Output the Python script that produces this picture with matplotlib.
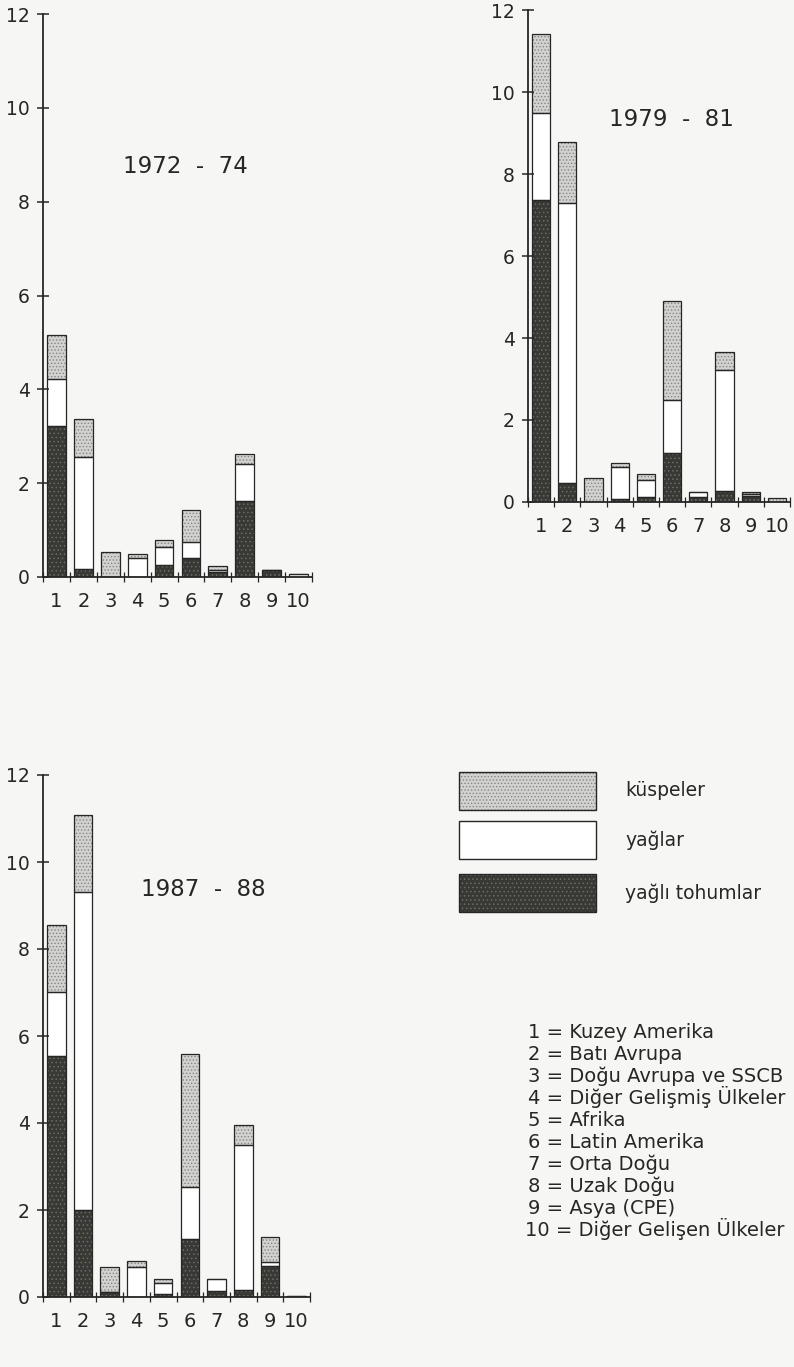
import matplotlib
matplotlib.use("Agg")
import matplotlib.pyplot as plt
from matplotlib.patches import Rectangle
import numpy as np

plt.rcParams['font.family'] = ['DejaVu Sans']
plt.rcParams['hatch.linewidth'] = 0.6

# ---------------- data ----------------
kategoriler = list(range(1, 11))
kategori_etiketleri = [str(k) for k in kategoriler]
ytick_degerleri = [0, 2, 4, 6, 8, 10, 12]

donemler = ["1972  -  74", "1979  -  81", "1987  -  88"]

tohum_1972 = [3.21, 0.16, 0.00, 0.00, 0.25, 0.41, 0.10, 1.61, 0.14, 0.00]
yag_1972 = [1.02, 2.39, 0.00, 0.40, 0.39, 0.33, 0.05, 0.80, 0.00, 0.06]
kusp_1972 = [0.93, 0.82, 0.53, 0.08, 0.15, 0.69, 0.08, 0.21, 0.00, 0.00]

tohum_1980 = [7.36, 0.46, 0.00, 0.07, 0.12, 1.20, 0.12, 0.28, 0.15, 0.00]
yag_1980 = [2.14, 6.84, 0.00, 0.78, 0.41, 1.28, 0.12, 2.95, 0.04, 0.00]
kusp_1980 = [1.91, 1.49, 0.59, 0.09, 0.15, 2.42, 0.00, 0.43, 0.05, 0.10]

tohum_1988 = [5.53, 2.00, 0.12, 0.00, 0.06, 1.34, 0.13, 0.15, 0.71, 0.00]
yag_1988 = [1.49, 7.32, 0.00, 0.69, 0.26, 1.18, 0.29, 3.34, 0.10, 0.02]
kusp_1988 = [1.54, 1.77, 0.56, 0.14, 0.09, 3.07, 0.00, 0.46, 0.57, 0.00]

seri_adlari = ["küspeler", "yağlar", "yağlı tohumlar"]
bolgeler = ["Kuzey Amerika", "Batı Avrupa", "Doğu Avrupa ve SSCB",
            "Diğer Gelişmiş Ülkeler", "Afrika", "Latin Amerika",
            "Orta Doğu", "Uzak Doğu", "Asya (CPE)", "Diğer Gelişen Ülkeler"]

# ---------------- style ----------------
BG = '#f6f6f4'
INK = '#262626'
DARK_FACE, DARK_HATCH = '#383834', '#6c6c66'
KUSP_FACE, KUSP_HATCH = '#d2d2d0', '#858583'

W, H = 794, 1367
fig = plt.figure(figsize=(W / 100, H / 100), dpi=100, facecolor=BG)


def px_axes(x0, x1, y_top, y_bot):
    return fig.add_axes([x0 / W, 1 - y_bot / H, (x1 - x0) / W, (y_bot - y_top) / H])


def stacked(ax, tohum, yag, kusp, title, tx, ty):
    x = np.array(kategoriler, dtype=float)
    tohum = np.array(tohum); yag = np.array(yag); kusp = np.array(kusp)
    w = 0.7
    ax.bar(x, tohum, w, color=DARK_FACE, edgecolor=DARK_HATCH, hatch='....', linewidth=0)
    ax.bar(x, yag, w, bottom=tohum, color='white', linewidth=0)
    ax.bar(x, kusp, w, bottom=tohum + yag, color=KUSP_FACE, edgecolor=KUSP_HATCH,
           hatch='.....', linewidth=0)
    for vals, bot in [(tohum, 0), (yag, tohum), (kusp, tohum + yag)]:
        ax.bar(x, vals, w, bottom=bot, facecolor='none', edgecolor=INK, linewidth=0.9)
    ax.set_xlim(0.5, 10.5)
    ax.set_ylim(0, 12)
    ax.set_facecolor('none')
    for s in ['top', 'right']:
        ax.spines[s].set_visible(False)
    for s in ['left', 'bottom']:
        ax.spines[s].set_color(INK)
        ax.spines[s].set_linewidth(1.3)
    ax.set_yticks(ytick_degerleri)
    ax.set_yticklabels([str(v) for v in ytick_degerleri], fontsize=13.5, color=INK)
    ax.tick_params(axis='y', direction='inout', length=9, width=1.1, color=INK, pad=5)
    ax.set_xticks(x)
    ax.set_xticklabels(kategori_etiketleri, fontsize=14, color=INK)
    ax.tick_params(axis='x', which='major', length=0, pad=11)
    ax.set_xticks(np.arange(0.5, 11, 1.0), minor=True)
    ax.tick_params(axis='x', which='minor', direction='inout', length=7, width=0.9, color=INK)
    ax.text(tx, ty, title, transform=ax.transData, fontsize=16.5, color=INK,
            ha='center', va='center')


ax1 = px_axes(43, 312, 14, 577)
stacked(ax1, tohum_1972, yag_1972, kusp_1972, donemler[0], 5.78, 8.76)

ax2 = px_axes(528, 790, 10, 502)
stacked(ax2, tohum_1980, yag_1980, kusp_1980, donemler[1], 5.99, 9.33)

ax3 = px_axes(43, 310, 775, 1297)
stacked(ax3, tohum_1988, yag_1988, kusp_1988, donemler[2], 6.49, 9.36)

# ---------------- legend (pixel overlay) ----------------
ov = fig.add_axes([0, 0, 1, 1])
ov.set_xlim(0, W); ov.set_ylim(H, 0)
ov.axis('off')
ov.patch.set_alpha(0)

leg = [(772, KUSP_FACE, KUSP_HATCH, '.....'), (821, 'white', None, None),
       (874, DARK_FACE, DARK_HATCH, '....')]
for (yt, fc, hc, ht), name in zip(leg, seri_adlari):
    if ht:
        ov.add_patch(Rectangle((459, yt), 137, 38, facecolor=fc, edgecolor=hc,
                               hatch=ht, linewidth=0))
    else:
        ov.add_patch(Rectangle((459, yt), 137, 38, facecolor=fc, linewidth=0))
    ov.add_patch(Rectangle((459, yt), 137, 38, facecolor='none', edgecolor=INK,
                           linewidth=1.0))
    ov.text(625, yt + 19, name, fontsize=13.5, color=INK, ha='left', va='center')

for i, (k, b) in enumerate(zip(kategoriler, bolgeler)):
    yy = 1038 + i * 22
    xx = 525 if k >= 10 else 528
    ov.text(xx, yy, f"{k} = {b}", fontsize=14, color=INK, ha='left', va='baseline')

fig.savefig('out.png', dpi=100, facecolor=BG)
